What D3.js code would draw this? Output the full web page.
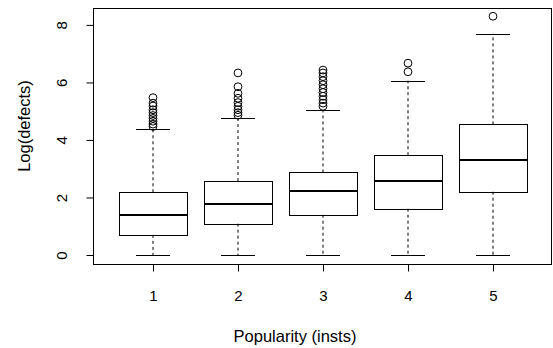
<!DOCTYPE html>
<html><head><meta charset="utf-8">
<script src="https://cdn.jsdelivr.net/npm/d3@7"></script>
<style>body{margin:0;background:#fff}svg{display:block}text{font-family:"Liberation Sans",Arial,sans-serif;fill:#000}</style>
</head><body>
<script>
const categories = ["1","2","3","4","5"];
const whiskerLow = [0, 0, 0, 0, 0];
const q1 = [0.70, 1.09, 1.40, 1.61, 2.20];
const medians = [1.40, 1.79, 2.21, 2.57, 3.30];
const q3 = [2.18, 2.57, 2.87, 3.47, 4.54];
const whiskerHigh = [4.39, 4.75, 5.04, 6.06, 7.69];
const outliers1 = [5.47, 5.28, 5.18, 5.05, 4.95, 4.85, 4.75, 4.65, 4.55, 4.47];
const outliers2 = [6.33, 5.85, 5.62, 5.45, 5.30, 5.17, 5.05, 4.95, 4.86];
const outliers3 = [6.43, 6.33, 6.20, 6.06, 5.92, 5.78, 5.65, 5.52, 5.40, 5.28, 5.17];
const outliers4 = [6.67, 6.37];
const outliers5 = [8.30];
const outliers = [outliers1, outliers2, outliers3, outliers4, outliers5];
const yTicks = [0, 2, 4, 6, 8];
const xLabel = "Popularity (insts)";
const yLabel = "Log(defects)";

const W = 553, H = 348;
const svg = d3.select("body").append("svg").attr("width", W).attr("height", H);

const x = d3.scaleLinear().domain([0.3, 5.7]).range([93.5, 552.5]);
const y = d3.scaleLinear().domain([-0.33, 8.57]).range([264.5, 8.5]);
const step = x(2) - x(1);
const bw = 0.8 * step;
const cap = 0.5 * bw;

const g = svg.append("g");
const stroke = "#000";

categories.forEach((c, i) => {
  const cx = x(i + 1);
  const gi = g.append("g");
  gi.append("line").attr("x1", cx).attr("x2", cx).attr("y1", y(q3[i])).attr("y2", y(whiskerHigh[i]))
    .attr("stroke", stroke).attr("stroke-dasharray", "3,3");
  gi.append("line").attr("x1", cx).attr("x2", cx).attr("y1", y(q1[i])).attr("y2", y(whiskerLow[i]))
    .attr("stroke", stroke).attr("stroke-dasharray", "3,3");
  [whiskerHigh[i], whiskerLow[i]].forEach(v => {
    gi.append("line").attr("x1", cx - cap / 2).attr("x2", cx + cap / 2)
      .attr("y1", Math.round(y(v)) + 0.5).attr("y2", Math.round(y(v)) + 0.5).attr("stroke", stroke);
  });
  const top = Math.round(y(q3[i])) + 0.5, bot = Math.round(y(q1[i])) + 0.5;
  gi.append("rect").attr("x", Math.round(cx - bw / 2) + 0.5).attr("y", top)
    .attr("width", Math.round(bw)).attr("height", bot - top)
    .attr("fill", "none").attr("stroke", stroke);
  gi.append("line").attr("x1", Math.round(cx - bw / 2) + 0.5).attr("x2", Math.round(cx - bw / 2) + 0.5 + Math.round(bw))
    .attr("y1", Math.round(y(medians[i]))).attr("y2", Math.round(y(medians[i]))).attr("stroke", stroke).attr("stroke-width", 2);
  gi.selectAll("circle").data(outliers[i]).join("circle")
    .attr("cx", cx).attr("cy", d => y(d)).attr("r", 3.9)
    .attr("fill", "none").attr("stroke", stroke).attr("stroke-width", 1);
});

svg.append("rect").attr("x", 93.5).attr("y", 8.5).attr("width", 552.5 - 93.5 - 1).attr("height", 264.5 - 8.5)
  .attr("fill", "none").attr("stroke", stroke);

const yAxis = d3.axisLeft(y).tickValues(yTicks).tickSize(7).tickPadding(0).tickFormat(d3.format("d"));
const ya = svg.append("g").attr("transform", "translate(93.5,0)").call(yAxis);
ya.select(".domain").remove();
ya.selectAll(".tick line").attr("stroke", stroke);
ya.selectAll(".tick text").attr("x", null).attr("dy", null)
  .attr("text-anchor", "middle").attr("font-size", 15)
  .attr("transform", "translate(-27,0) rotate(-90)").attr("fill", "#000");

const xAxis = d3.axisBottom(x).tickValues([1, 2, 3, 4, 5]).tickSize(7).tickFormat((d, i) => categories[i]);
const xa = svg.append("g").attr("transform", "translate(0,264.5)").call(xAxis);
xa.select(".domain").remove();
xa.selectAll(".tick line").attr("stroke", stroke);
xa.selectAll(".tick text").attr("y", 36.5).attr("dy", null).attr("font-size", 15).attr("fill", "#000");

svg.append("text").attr("x", 295).attr("y", 342).attr("text-anchor", "middle").attr("font-size", 16.5).text(xLabel);
svg.append("text").attr("transform", "translate(30,126) rotate(-90)").attr("text-anchor", "middle")
  .attr("font-size", 16.5).text(yLabel);
</script>
</body></html>
